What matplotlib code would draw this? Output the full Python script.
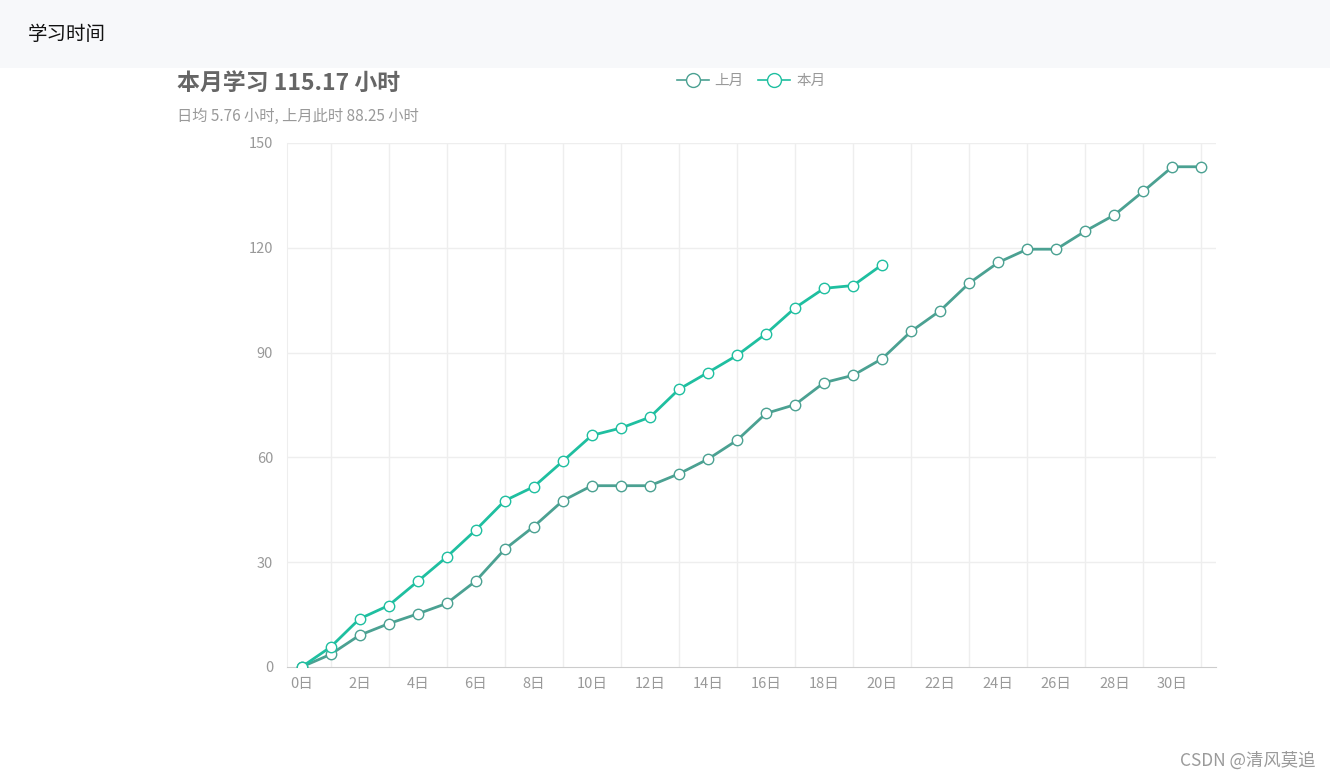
import matplotlib
matplotlib.use("Agg")
import matplotlib.pyplot as plt
from matplotlib.patches import Rectangle
from matplotlib.lines import Line2D

plt.rcParams['font.family'] = ['Noto Sans CJK SC', 'DejaVu Sans']

days = list(range(32))
day_labels = [f"{d}日" for d in days]
last_month = [0, 3.6, 9.1, 12.4, 15.2, 18.2, 24.6, 33.7, 40.2, 47.6, 51.9, 51.9,
              51.9, 55.3, 59.5, 64.9, 72.6, 75.1, 81.4, 83.5, 88.25, 96.1, 102.0,
              109.9, 115.8, 119.6, 119.6, 124.8, 129.4, 136.2, 143.2, 143.2]
this_month = [0, 5.7, 13.8, 17.6, 24.5, 31.5, 39.2, 47.6, 51.6, 58.9, 66.3, 68.4,
              71.5, 79.5, 84.3, 89.2, 95.4, 102.8, 108.4, 109.2, 115.17]
y_ticks = [0, 30, 60, 90, 120, 150]

c_last = '#4ba192'
c_this = '#1fbfa0'
grey = '#999999'

W, H = 1330, 779
fig = plt.figure(figsize=(W / 100, H / 100), dpi=100)
fig.patches.append(Rectangle((0, 1 - 68 / H), 1, 68 / H, transform=fig.transFigure,
                             facecolor='#f7f8fa', edgecolor='none', zorder=0))
fig.text(28 / W, 1 - 34 / H, '学习时间', fontsize=14, color='#111111', va='center', ha='left')
fig.text(177 / W, 1 - 83 / H, '本月学习 115.17 小时', fontsize=16.5, fontweight='bold',
         color='#666666', va='center', ha='left')
fig.text(177 / W, 1 - 116 / H, '日均 5.76 小时, 上月此时 88.25 小时', fontsize=11,
         color=grey, va='center', ha='left')
fig.text(1315 / W, 1 - 761 / H, 'CSDN @清风莫追', fontsize=12.5, color='#9a9a9a',
         va='center', ha='right')

ax = fig.add_axes([287 / W, 1 - 667 / H, (1216 - 287) / W, (667 - 143) / H])
ax.plot(days, last_month, color=c_last, lw=2, marker='o', ms=7.5, mfc='white',
        mec=c_last, mew=1, zorder=3)
ax.plot(days[:len(this_month)], this_month, color=c_this, lw=2, marker='o', ms=7.5,
        mfc='white', mec=c_this, mew=1, zorder=4)

ax.set_xlim(-0.5, 31.5)
ax.set_ylim(0, 150)
ax.set_yticks(y_ticks)
ax.set_xticks(days[::2])
ax.set_xticklabels(day_labels[::2])
ax.tick_params(axis='both', length=0, colors=grey, labelsize=10.5)
ax.tick_params(axis='x', pad=7)
ax.tick_params(axis='y', pad=10)
for y in y_ticks[1:]:
    ax.axhline(y, color='#eeeeee', lw=1, zorder=1)
for x in days[1::2]:
    ax.axvline(x, color='#eeeeee', lw=1, zorder=1)
for s in ['top', 'right']:
    ax.spines[s].set_visible(False)
ax.spines['left'].set_color('#eeeeee')
ax.spines['bottom'].set_color('#cccccc')

handles = [Line2D([], [], color=c_last, lw=1.2, marker='o', ms=10, mfc='white', mec=c_last),
           Line2D([], [], color=c_this, lw=1.2, marker='o', ms=10, mfc='white', mec=c_this)]
fig.legend(handles, ['上月', '本月'], loc='center', bbox_to_anchor=(751 / W, 1 - 81 / H),
           ncol=2, frameon=False, fontsize=10.5, labelcolor=grey, handlelength=2.2,
           handletextpad=0.4, columnspacing=1.0)

fig.savefig('out.png', dpi=100)
